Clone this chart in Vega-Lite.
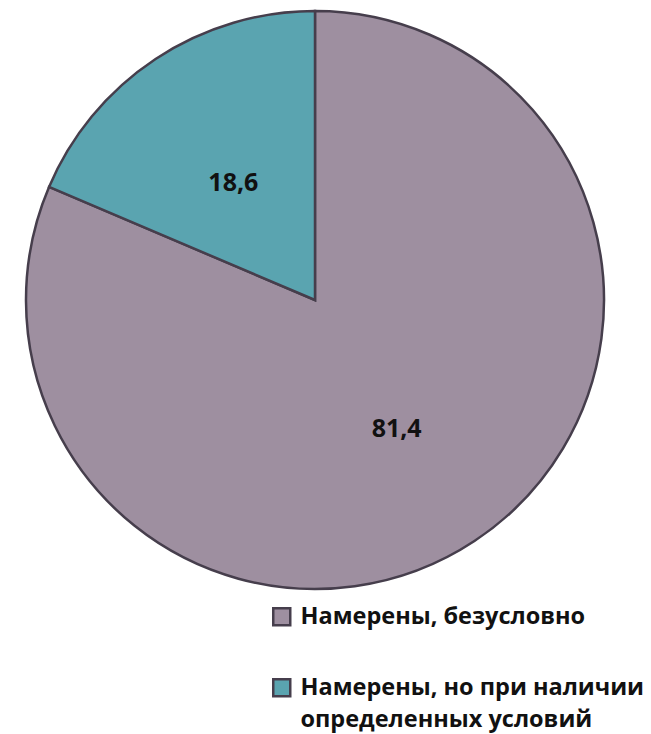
{
  "$schema": "https://vega.github.io/schema/vega-lite/v6.json",
  "width": 630,
  "height": 600,
  "padding": {"left": 0, "top": 0, "right": 21, "bottom": 134},
  "autosize": "none",
  "background": "white",
  "config": {"view": {"stroke": null}},
  "data": {"values": [
    {"category": "Намерены, безусловно", "value": 81.4, "label": "81,4"},
    {"category": "Намерены, но при наличии определенных условий", "value": 18.6, "label": "18,6"}
  ]},
  "encoding": {
    "theta": {"field": "value", "type": "quantitative", "stack": true},
    "order": {"field": "value", "sort": "descending"}
  },
  "layer": [
    {
      "mark": {"type": "arc", "outerRadius": 289, "stroke": "#463e4c", "strokeWidth": 2.5},
      "encoding": {
        "color": {
          "field": "category", "type": "nominal",
          "scale": {"domain": ["Намерены, безусловно", "Намерены, но при наличии определенных условий"], "range": ["#9e8fa0", "#5aa4b0"]},
          "legend": {
            "title": null, "orient": "none", "legendX": 270, "legendY": 605,
            "symbolType": "square", "symbolSize": 289, "symbolStrokeColor": "#463e4c", "symbolStrokeWidth": 2.5,
            "labelFont": "Open Sans", "labelFontWeight": "bold", "labelFontSize": 23.5, "labelColor": "#111111",
            "labelOffset": 7, "rowPadding": 43, "labelLimit": 420, "labelBaseline": "middle",
            "labelExpr": "datum.label == 'Намерены, но при наличии определенных условий' ? ['Намерены, но при наличии', 'определенных условий'] : datum.label",
            "encode": {"labels": {"update": {"lineHeight": {"value": 32}}}}
          }
        }
      }
    },
    {
      "mark": {"type": "text", "radius": 148, "dy": 6, "font": "Open Sans", "fontWeight": "bold", "fontSize": 25, "color": "#111111"},
      "encoding": {"text": {"field": "label"}}
    }
  ]
}
